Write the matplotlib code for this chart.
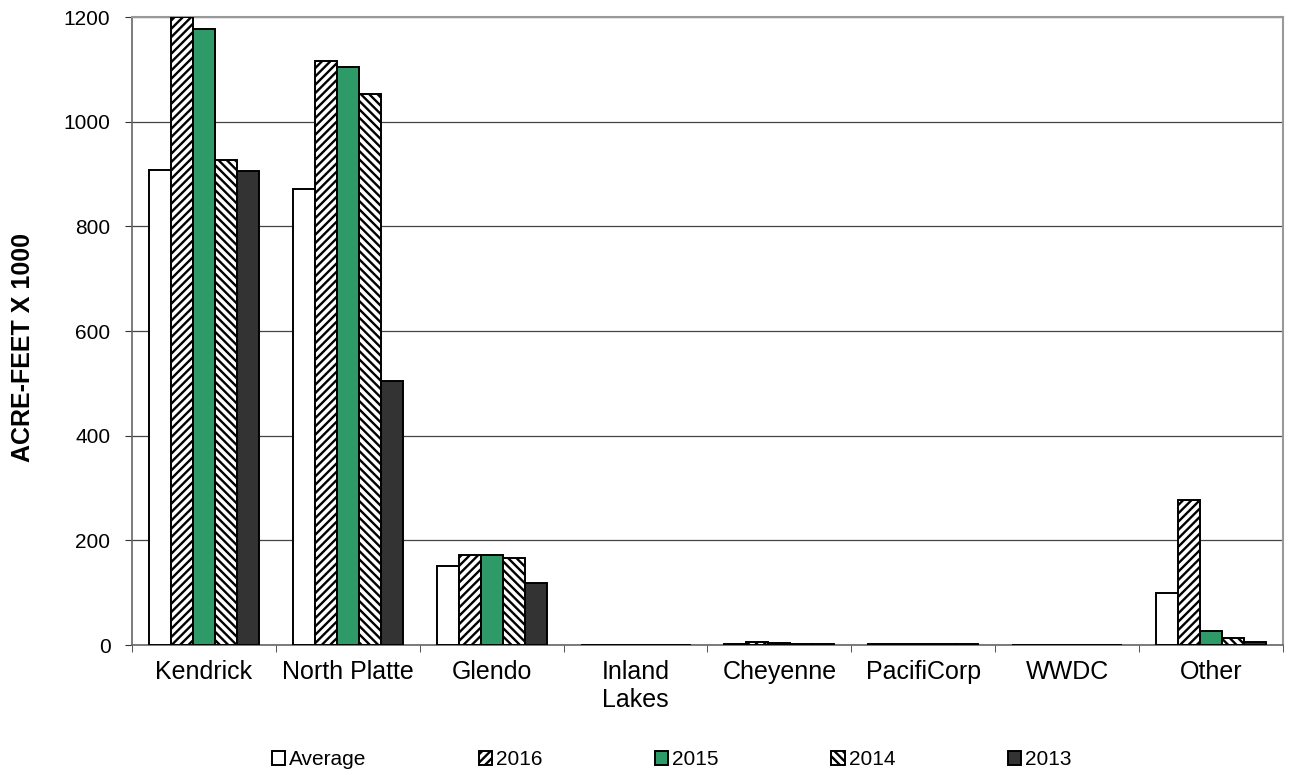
import numpy as np
import matplotlib
matplotlib.use("Agg")
from matplotlib import pyplot as plt

plt.rcParams['font.family'] = ['Liberation Sans', 'DejaVu Sans']
plt.rcParams['hatch.linewidth'] = 1.7

# data (acre-feet x 1000)
categories = ["Kendrick", "North Platte", "Glendo", "Inland\nLakes", "Cheyenne",
              "PacifiCorp", "WWDC", "Other"]
series_names = ["Average", "2016", "2015", "2014", "2013"]
avg_vals = [908, 872, 151, 0, 2, 2, 0, 100]
y2016 = [1200, 1116, 172, 0, 5, 2, 0, 277]
y2015 = [1177, 1105, 172, 0, 3, 2, 0, 26]
y2014 = [927, 1053, 167, 0, 2, 2, 0, 13]
y2013 = [905, 504, 118, 0, 2, 2, 0, 5]

values = [avg_vals, y2016, y2015, y2014, y2013]
faces = ["white", "white", "#2E9A68", "white", "#333333"]
hatches = [None, "////", None, "\\\\\\\\", None]

fig, ax = plt.subplots(figsize=(12.94, 7.75), dpi=100)
fig.subplots_adjust(left=0.102, right=0.9915, top=0.978, bottom=0.1677)

x = np.arange(len(categories))
w = 0.153
for i, (vals, fc, h, name) in enumerate(zip(values, faces, hatches, series_names)):
    ax.bar(x + (i - 2) * w, vals, w, color=fc, edgecolor="black", hatch=h,
           linewidth=1.4, label=name, zorder=3)

ax.set_xlim(-0.5, len(categories) - 0.5)
ax.set_ylim(0, 1200)
ax.set_yticks(range(0, 1201, 200))
ax.yaxis.grid(True, color="#444444", linewidth=0.9, zorder=0)
ax.set_ylabel("ACRE-FEET X 1000", fontsize=18, fontweight="bold")
ax.yaxis.set_label_coords(-0.084, 0.473)

ax.set_xticks(x)
ax.set_xticklabels(categories, fontsize=18, va="top")
ax.set_xticks(np.arange(-0.5, len(categories), 1), minor=True)
ax.tick_params(axis="x", which="major", length=0, pad=11)
ax.tick_params(axis="x", which="minor", length=5, direction="out", color="#333333")
ax.tick_params(axis="y", labelsize=15, length=5, pad=10.5, direction="out", color="#333333")

for side in ["top", "right"]:
    ax.spines[side].set_color("#999999")
    ax.spines[side].set_linewidth(1.5)
for side in ["left", "bottom"]:
    ax.spines[side].set_color("#666666")
    ax.spines[side].set_linewidth(1.2)

leg = fig.legend(*ax.get_legend_handles_labels(), loc="center",
                 bbox_to_anchor=(0.519, 0.0194), ncol=5, frameon=False,
                 fontsize=15, handlelength=0.63, handleheight=0.63, handletextpad=0.2,
                 columnspacing=5.4, borderpad=0)

plt.savefig("out.png")
